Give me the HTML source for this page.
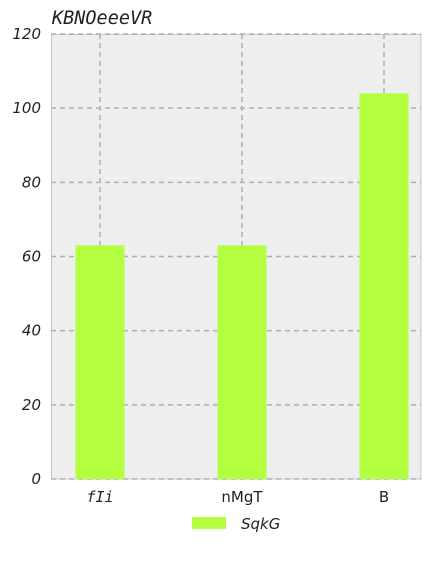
<!DOCTYPE html>
<html><head><meta charset="utf-8"><style>
body{margin:0;background:#fff;}
svg text{font-family:"DejaVu Sans","Liberation Sans",sans-serif;fill:#222;}
</style></head><body>
<svg width="432" height="576" xmlns="http://www.w3.org/2000/svg">
<rect x="0" y="0" width="432" height="576" fill="#fff"/>
<rect x="51.5" y="34.5" width="369.5" height="444.5" fill="#eeeeee" stroke="#c8c8c8"/>
<g id="grid"></g>
<g id="bars"></g>
<g id="ticks"></g>
<text x="52" y="24" font-size="18.5" font-style="italic" style="font-family:'DejaVu Sans Mono',monospace">KBNOeeeVR</text>
<rect x="192" y="517" width="34" height="12" fill="#b3ff3f"/>
<text x="241" y="529" font-size="15" font-style="italic">SqkG</text>
</svg>
<script>
const categories=["fIi","nMgT","B"];
const values=[63,63,104];
const yTicks=[0,20,40,60,80,100,120];
const NS="http://www.w3.org/2000/svg";
const x0=51,x1=421,y0=479,y1=34,ymax=120;
const y=v=>y0-(v/ymax)*(y0-y1);
const bw=49;
const padL=24.5,padR=12.5;
const step=(x1-x0-padL-padR-bw)/(categories.length-1);
const xc=i=>x0+padL+bw/2+step*i;
function mk(t,a,p){const e=document.createElementNS(NS,t);for(const k in a)e.setAttribute(k,a[k]);p.appendChild(e);return e;}
const grid=document.getElementById('grid'),bars=document.getElementById('bars'),ticks=document.getElementById('ticks');
yTicks.forEach(v=>{
 const l=mk('line',{x1:x0,x2:x1,y1:y(v),y2:y(v),stroke:'#b0b0b0','stroke-width':1.5,'stroke-dasharray':'5,4'},grid);
 
 
 const t=mk('text',{x:41,y:y(v)+5,'text-anchor':'end','font-size':15,'font-style':'italic'},ticks);
 t.textContent=v;
 
 
});
categories.forEach((c,i)=>{
 const cx=xc(i);
 const l=mk('line',{x1:cx,x2:cx,y1:y1,y2:y0,stroke:'#b0b0b0','stroke-width':1.5,'stroke-dasharray':'5,4'},grid);
 
 
 const r=mk('rect',{x:cx-bw/2,y:y(values[i]),width:bw,height:y0-y(values[i]),fill:'#b3ff3f'},bars);
 
 
 const t=mk('text',{x:cx,y:502,'text-anchor':'middle','font-size':15},ticks);
 if(i===0){t.setAttribute('font-style','italic');t.setAttribute('style',"font-family:'DejaVu Sans Mono',monospace");}
 t.textContent=c;
 
 
});
</script>
</body></html>
